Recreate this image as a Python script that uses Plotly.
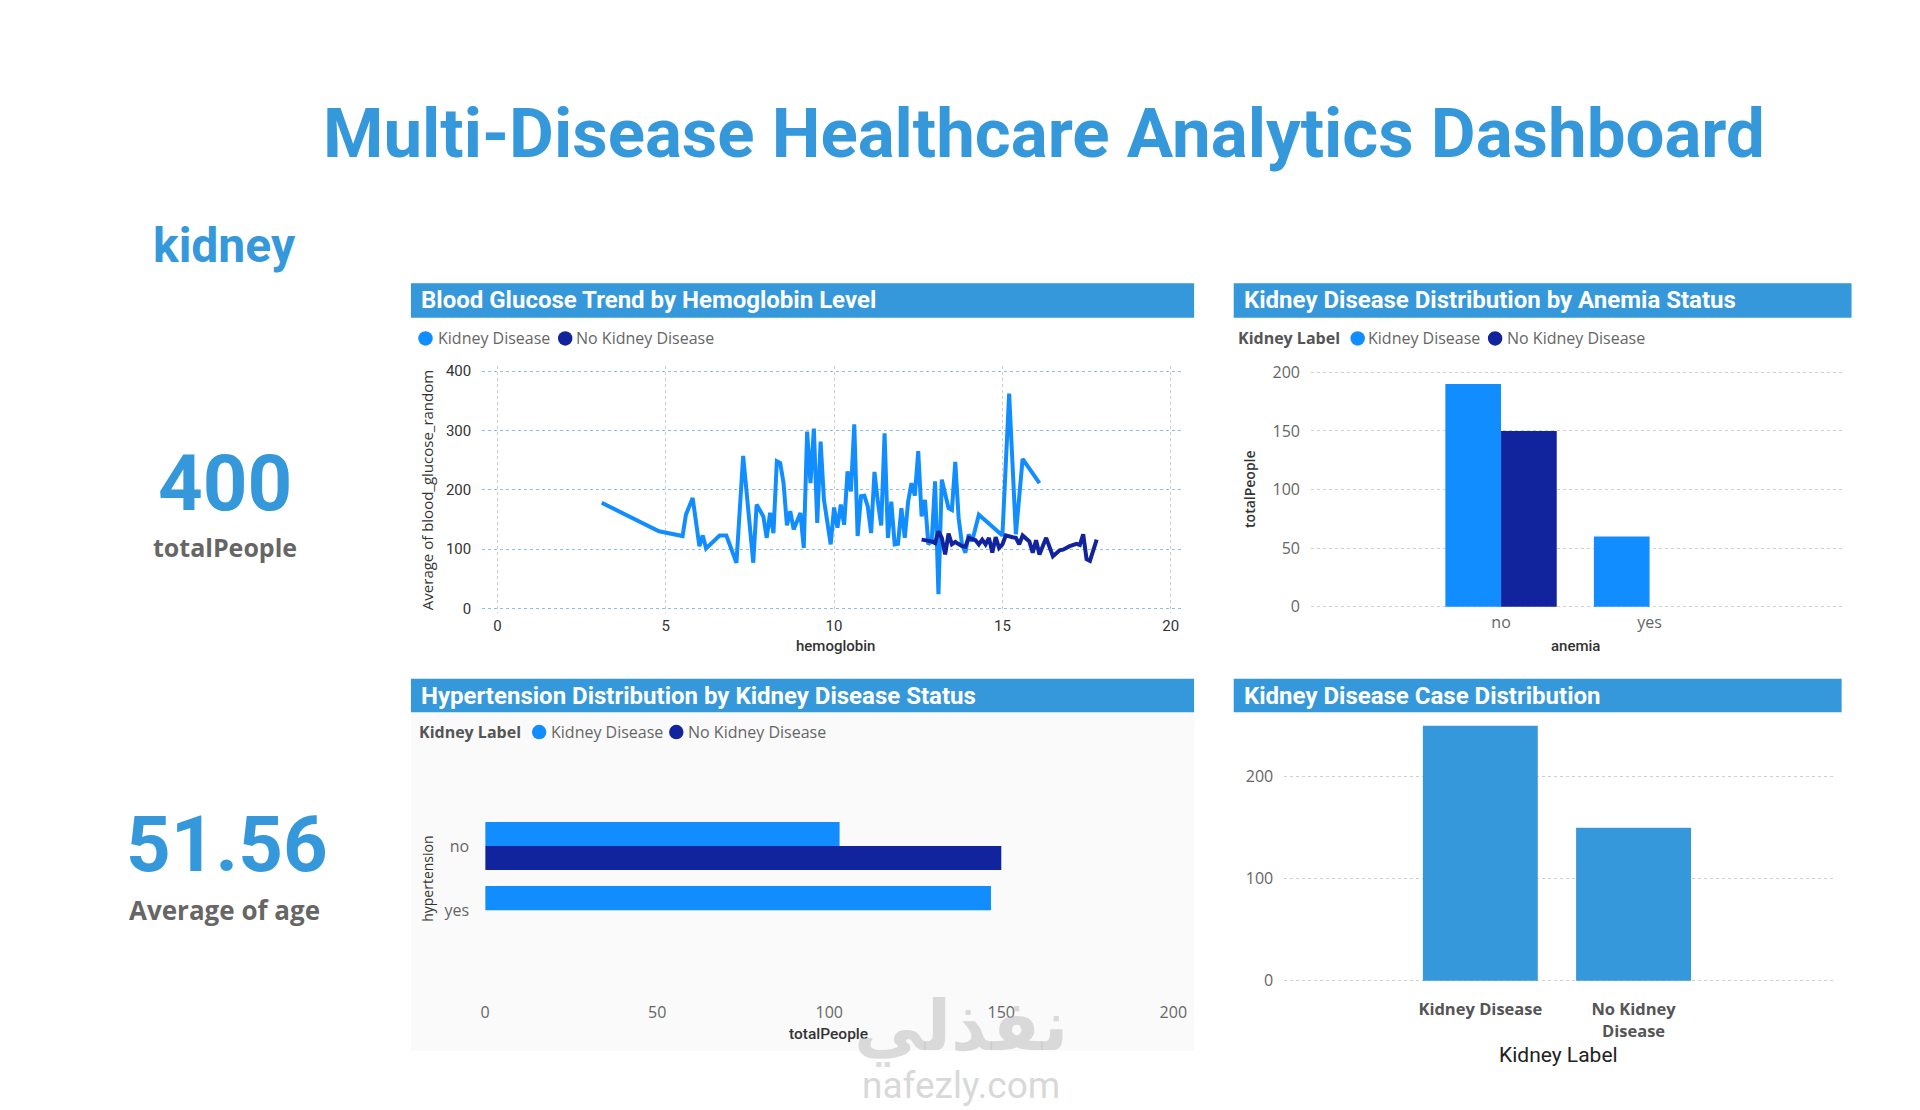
import plotly.graph_objects as go

W, H = 1920, 1110


def px(x):
    return x / W


def py(y):
    return 1 - y / H


# ---------------- data ----------------
kd_hemo = [3.1, 4.8, 5.5, 5.6, 5.8, 6.0, 6.1, 6.2, 6.6, 6.8, 7.1, 7.3, 7.6, 7.7, 7.9,
           8.0, 8.1, 8.2, 8.3, 8.4, 8.5, 8.6, 8.7, 8.8, 9.0, 9.1, 9.2, 9.3, 9.4, 9.5,
           9.6, 9.7, 9.9, 10.0, 10.1, 10.2, 10.3, 10.4, 10.5, 10.6, 10.7, 10.8, 10.9,
           11.0, 11.1, 11.2, 11.3, 11.4, 11.5, 11.6, 11.7, 11.8, 11.9, 12.0, 12.1,
           12.2, 12.3, 12.4, 12.5, 12.6, 12.7, 12.8, 12.9, 13.0, 13.1, 13.2, 13.4,
           13.5, 13.6, 13.7, 13.8, 13.9, 14.0, 14.1, 14.3, 15.0, 15.2, 15.4, 15.6, 16.1]
kd_glucose = [178, 130, 122, 158, 186, 105, 123, 101, 123, 123, 77, 257, 77, 175, 155,
              119, 161, 127, 248, 245, 211, 140, 164, 133, 161, 102, 298, 211, 303, 144,
              281, 183, 108, 170, 136, 175, 141, 231, 197, 310, 122, 189, 190,
              172, 127, 230, 180, 140, 295, 119, 180, 108, 109, 169, 119,
              180, 211, 190, 265, 155, 183, 108, 113, 214, 24, 217, 169,
              166, 247, 152, 108, 94, 125, 113, 158, 123, 362, 125, 252, 211]

nkd_hemo = [12.6, 12.9, 13.0, 13.1, 13.2, 13.3, 13.4, 13.5, 13.6, 13.7, 13.8, 13.9, 14.0,
            14.2, 14.3, 14.4, 14.5, 14.6, 14.7, 14.8, 14.9, 15.0, 15.1, 15.3, 15.4, 15.5,
            15.6, 15.8, 15.9, 16.0, 16.1, 16.3, 16.4, 16.5, 16.7, 16.8, 17.0, 17.2, 17.3,
            17.4, 17.5, 17.6, 17.8]
nkd_glucose = [116, 113, 110, 130, 119, 91, 126, 108, 112, 108, 105, 104, 119,
               115, 108, 116, 108, 119, 94, 120, 102, 108, 123, 120, 119, 108,
               123, 113, 94, 115, 91, 119, 105, 88, 98, 99, 105, 109, 107,
               125, 83, 80, 116]

anemia_cats = ['no', 'yes']
anemia_kd = [190, 60]
anemia_nkd = [150, None]

htn_cats = ['no', 'yes']
htn_kd = [103, 147]
htn_nkd = [150, None]

label_cats = ['Kidney Disease', 'No Kidney Disease']
label_ticks = ['<b>Kidney Disease</b>', '<b>No Kidney<br>Disease</b>']
label_counts = [250, 150]

total_people = 400
avg_age = 51.56

# ---------------- styling ----------------
BLUE = '#3498DB'
KD_C = '#118DFF'
NKD_C = '#12239E'
TF = 'Roboto'
UF = 'Open Sans'

fig = go.Figure()

# line chart
fig.add_trace(go.Scatter(x=kd_hemo, y=kd_glucose, mode='lines', name='Kidney Disease',
                         line=dict(color=KD_C, width=4), xaxis='x', yaxis='y'))
fig.add_trace(go.Scatter(x=nkd_hemo, y=nkd_glucose, mode='lines', name='No Kidney Disease',
                         line=dict(color=NKD_C, width=4), xaxis='x', yaxis='y'))

# anemia
fig.add_trace(go.Bar(x=anemia_cats, y=anemia_kd, name='Kidney Disease', marker_color=KD_C,
                     xaxis='x2', yaxis='y2'))
fig.add_trace(go.Bar(x=anemia_cats, y=anemia_nkd, name='No Kidney Disease', marker_color=NKD_C,
                     xaxis='x2', yaxis='y2'))

# hypertension
fig.add_trace(go.Bar(y=htn_cats, x=htn_kd, orientation='h', name='Kidney Disease',
                     marker_color=KD_C, xaxis='x3', yaxis='y3'))
fig.add_trace(go.Bar(y=htn_cats, x=htn_nkd, orientation='h', name='No Kidney Disease',
                     marker_color=NKD_C, xaxis='x3', yaxis='y3'))

# case distribution
fig.add_trace(go.Bar(x=label_cats, y=label_counts, marker_color=BLUE, xaxis='x4', yaxis='y4'))

fig.update_traces(showlegend=False, hoverinfo='skip')
fig.update_traces(marker_line_width=0, selector=dict(type='bar'))

tick_dark = dict(family=TF, size=15, color='#333333')
tick_gray = dict(family=UF, size=16, color='#666666')

fig.update_layout(
    width=W, height=H,
    margin=dict(l=0, r=0, t=0, b=0),
    paper_bgcolor='white',
    plot_bgcolor='rgba(0,0,0,0)',
    barmode='group', bargap=0.25, bargroupgap=0,
    xaxis=dict(domain=[px(482), px(1191)], range=[-0.45, 20.4], anchor='y',
               tickvals=[0, 5, 10, 15, 20], showgrid=True, gridcolor='#C5CCD6',
               griddash='dot', zeroline=False, showline=False, ticks='',
               tickfont=tick_dark, ticklabelstandoff=2),
    yaxis=dict(domain=[py(614), py(364)], range=[-7.15, 408.3], anchor='x',
               tickvals=[0, 100, 200, 300, 400], showgrid=True, gridcolor='#8DBFEA',
               griddash='dot', zeroline=False, showline=False, ticks='',
               tickfont=tick_dark, ticklabelstandoff=10),
    xaxis2=dict(domain=[px(1319), px(1856)], type='category', range=[-1.28, 2.3],
                anchor='y2', showgrid=False, zeroline=False, ticks='',
                tickfont=tick_gray, ticklabelstandoff=0),
    yaxis2=dict(domain=[py(612), py(366)], range=[-3.4, 203.6], anchor='x2',
                tickvals=[0, 50, 100, 150, 200], showgrid=True, gridcolor='#CFCFCF',
                griddash='dot', zeroline=False, ticks='', tickfont=tick_gray,
                ticklabelstandoff=10),
    xaxis3=dict(domain=[px(485), px(1180)], range=[0, 200], anchor='y3',
                tickvals=[0, 50, 100, 150, 200], showgrid=False, zeroline=False,
                ticks='', tickfont=tick_gray, ticklabelstandoff=8),
    yaxis3=dict(domain=[py(1000), py(770)], type='category', range=[2.30, -1.24],
                anchor='x3', showgrid=False, zeroline=False, ticks='',
                tickfont=tick_gray, ticklabelstandoff=15),
    xaxis4=dict(domain=[px(1292), px(1846)], type='category', range=[-1.28, 2.3],
                anchor='y4', tickvals=label_cats, ticktext=label_ticks, showgrid=False,
                zeroline=False, ticks='', tickfont=dict(family=UF, size=16.5, color='#555555'),
                ticklabelstandoff=14),
    yaxis4=dict(domain=[py(990), py(722)], range=[-2.9, 256.4], anchor='x4',
                tickvals=[0, 100, 200], showgrid=True, gridcolor='#CFCFCF',
                griddash='dot', zeroline=False, ticks='', tickfont=tick_gray,
                ticklabelstandoff=10),
)

# ---------------- panels: title bars and background ----------------
shapes = [
    dict(type='rect', xref='paper', yref='paper', x0=px(410), x1=px(1201), y0=py(1058), y1=py(715),
         fillcolor='#FAFAFA', line_width=0, layer='below'),
]
panels = [
    (410, 1201, 280, 315, 'Blood Glucose Trend by Hemoglobin Level'),
    (1241, 1865, 280, 315, 'Kidney Disease Distribution by Anemia Status'),
    (410, 1201, 681, 715, 'Hypertension Distribution by Kidney Disease Status'),
    (1241, 1855, 681, 715, 'Kidney Disease Case Distribution'),
]
ann = []
for x0, x1, y0, y1, title in panels:
    shapes.append(dict(type='rect', xref='paper', yref='paper', x0=px(x0), x1=px(x1),
                       y0=py(y1), y1=py(y0), fillcolor=BLUE, line_width=0, layer='below'))
    ann.append(dict(text='<b>' + title + '</b>', x=px(x0 + 8), y=py((y0 + y1) / 2),
                    xanchor='left', font=dict(family=TF, size=24, color='white')))

# legends: (y, optional "Kidney Label" x, dot1 x, text1 x, dot2 x, text2 x)
legends = [
    (336, None, 424.7, 435, 565.8, 575),
    (336, 1243, 1366.2, 1375, 1505, 1515),
    (735, 416, 539.5, 549, 678, 688),
]
R = 7.3
for y, lx, d1, t1, d2, t2 in legends:
    if lx is not None:
        ann.append(dict(text='<b>Kidney Label</b>', x=px(lx), y=py(y), xanchor='left',
                        font=dict(family=UF, size=16, color='#555555')))
    for d, t, c, name in [(d1, t1, KD_C, 'Kidney Disease'), (d2, t2, NKD_C, 'No Kidney Disease')]:
        shapes.append(dict(type='circle', xref='paper', yref='paper', x0=px(d - R), x1=px(d + R),
                           y0=py(y + R), y1=py(y - R), fillcolor=c, line_width=0))
        ann.append(dict(text=name, x=px(t), y=py(y), xanchor='left',
                        font=dict(family=UF, size=16, color='#666666')))

# ---------------- headings and KPI cards ----------------
ann += [
    dict(text='<b>Multi-Disease Healthcare Analytics Dashboard</b>', x=px(1049), y=py(128),
         font=dict(family=TF, size=69, color=BLUE)),
    dict(text='<b>kidney</b>', x=px(222), y=py(242), font=dict(family=TF, size=48, color=BLUE)),
    dict(text='<b>%d</b>' % total_people, x=px(222), y=py(483),
         font=dict(family=TF, size=78, color=BLUE)),
    dict(text='<b>totalPeople</b>', x=px(222), y=py(547),
         font=dict(family=UF, size=25, color='#666666')),
    dict(text='<b>%.2f</b>' % avg_age, x=px(224), y=py(849),
         font=dict(family=TF, size=78, color=BLUE)),
    dict(text='<b>Average of age</b>', x=px(222), y=py(915),
         font=dict(family=UF, size=26, color='#666666')),
]

# ---------------- axis titles ----------------
ann += [
    dict(text='Average of blood_glucose_random', x=px(427), y=py(490), textangle=-90,
         font=dict(family=UF, size=15, color='#333333')),
    dict(text='hemoglobin', x=px(839), y=py(648),
         font=dict(family=TF, size=15, color='#333333', weight=500)),
    dict(text='totalPeople', x=px(1257), y=py(489), textangle=-90,
         font=dict(family=UF, size=14, color='#333333', weight=600)),
    dict(text='anemia', x=px(1586), y=py(648),
         font=dict(family=TF, size=15, color='#333333', weight=500)),
    dict(text='hypertension', x=px(426), y=py(884), textangle=-90,
         font=dict(family=UF, size=14, color='#333333')),
    dict(text='totalPeople', x=px(832), y=py(1041),
         font=dict(family=TF, size=15.5, color='#333333', weight=500)),
    dict(text='Kidney Label', x=px(1569), y=py(1062), font=dict(family=TF, size=21, color='#222222')),
]

# watermark
ann += [
    dict(text='<b>نفذلي</b>', x=px(966), y=py(1033),
         font=dict(family='DejaVu Sans', size=70, color='rgba(190,190,190,0.55)')),
    dict(text='nafezly.com', x=px(966), y=py(1093),
         font=dict(family=TF, size=37, color='rgba(190,190,190,0.6)')),
]

for a in ann:
    a.setdefault('xref', 'paper')
    a.setdefault('yref', 'paper')
    a.setdefault('xanchor', 'center')
    a.setdefault('yanchor', 'middle')
    a.setdefault('showarrow', False)

fig.update_layout(shapes=shapes, annotations=ann)

fig.write_html('out.html', config=dict(displayModeBar=False),
               post_script="document.body.style.margin='0px';")
